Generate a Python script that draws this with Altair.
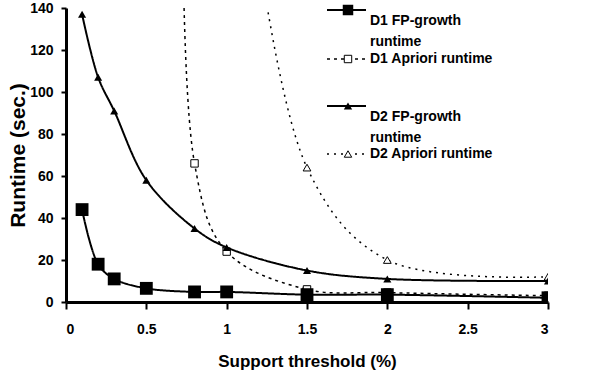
import altair as alt
import pandas as pd

# ---- data ----
support_fp = [0.1, 0.2, 0.3, 0.5, 0.8, 1, 1.5, 2, 3]
d1_fp_runtime = [44, 18, 11, 6.5, 4.8, 4.8, 3.5, 3.5, 2]
d2_fp_runtime = [137, 107, 91, 58, 35, 26, 15, 11, 10]

support_d1_apriori = [0.75, 0.8, 1, 1.5, 2, 3]
d1_apriori_runtime = [400, 66, 24, 6, 4.5, 3]

support_d2_apriori = [1, 1.5, 2, 3]
d2_apriori_runtime = [290, 64, 20, 12]

x_ticks = [0, 0.5, 1, 1.5, 2, 2.5, 3]
y_ticks = [0, 20, 40, 60, 80, 100, 120, 140]

FONT = "Liberation Sans, Arial, sans-serif"

d1_fp = pd.DataFrame({"x": support_fp, "y": d1_fp_runtime})
d2_fp = pd.DataFrame({"x": support_fp, "y": d2_fp_runtime})
d1_ap = pd.DataFrame({"x": support_d1_apriori, "y": d1_apriori_runtime})
d2_ap = pd.DataFrame({"x": support_d2_apriori, "y": d2_apriori_runtime})

xs = alt.Scale(domain=[0, 3], nice=False, zero=False)
ys = alt.Scale(domain=[0, 140], nice=False)

x_axis = alt.Axis(values=x_ticks, title="Support threshold (%)", grid=False,
                  labelExpr="datum.value")
y_axis = alt.Axis(values=y_ticks, title="Runtime (sec.)", grid=False)


def enc(base):
    return base.encode(
        x=alt.X("x:Q", scale=xs, axis=x_axis),
        y=alt.Y("y:Q", scale=ys, axis=y_axis),
    )


def series(df, dash, width, shape, filled, size):
    line = enc(alt.Chart(df).mark_line(color="black", strokeWidth=width,
                                        strokeDash=dash, clip=True,
                                        interpolate="catmull-rom"))
    pts = enc(alt.Chart(df).mark_point(shape=shape, filled=filled, size=size,
                                        color="black", fill="black" if filled else "white",
                                        opacity=1, strokeWidth=1, clip=True))
    return [line, pts]


layers = []
layers += series(d1_ap, [3, 4], 1.5, "square", False, 55)
layers += series(d2_ap, [2, 5], 1.5, "triangle-up", False, 60)
layers += series(d2_fp, [1, 0], 2, "triangle-up", True, 65)
layers += series(d1_fp, [1, 0], 2, "square", True, 165)

# ---- manual legend (pixel positions inside plot area) ----
one = alt.Data(values=[{"a": 1}])


def legend_item(y, label, dash, shape, filled, size):
    items = []
    items.append(alt.Chart(one).mark_rule(color="black", strokeWidth=2 if dash == [1, 0] else 1.5,
                                          strokeDash=dash).encode(
        x=alt.value(261), x2=alt.value(300), y=alt.value(y)))
    items.append(alt.Chart(one).mark_point(shape=shape, filled=filled, size=size, color="black",
                                           fill="black" if filled else "white", opacity=1,
                                           strokeWidth=1).encode(
        x=alt.value(282), y=alt.value(y)))
    items.append(alt.Chart(one).mark_text(align="left", baseline="middle", font=FONT,
                                          fontWeight="bold", fontSize=14, lineBreak="\n",
                                          lineHeight=21, color="black").encode(
        x=alt.value(304), y=alt.value(y + (10.5 if "\n" in label else 0)), text=alt.value(label)))
    return items


legend_layers = []
legend_layers += legend_item(2, "D1 FP-growth\nruntime", [1, 0], "square", True, 110)
legend_layers += legend_item(51, "D1 Apriori runtime", [3, 4], "square", False, 55)
legend_layers += legend_item(98, "D2 FP-growth\nruntime", [1, 0], "triangle-up", True, 70)
legend_layers += legend_item(146, "D2 Apriori runtime", [2, 5], "triangle-up", False, 55)

chart = alt.layer(*layers, *legend_layers).properties(
    width=482, height=294,
    autosize=alt.AutoSizeParams(type="none"),
    padding={"left": 66, "top": 8, "right": 42, "bottom": 76},
    background="white",
).configure_view(stroke=None).configure_axis(
    domainColor="black", domainWidth=3, tickColor="black", tickWidth=2,
    labelFont=FONT, labelFontWeight="bold", labelFontSize=14, labelColor="black",
    titleFont=FONT, titleFontWeight="bold", titleColor="black",
).configure_axisX(
    tickSize=7, labelPadding=13, titlePadding=17, titleFontSize=17,
).configure_axisY(
    tickSize=5, labelPadding=8, titlePadding=1, titleFontSize=21,
)

chart.save("out.html", embed_options={"renderer": "svg", "actions": False})
